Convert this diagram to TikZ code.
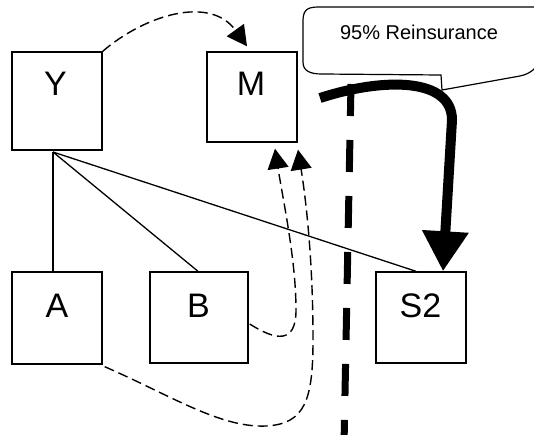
\documentclass[tikz,border=0pt]{standalone}
\usepackage{fontspec}
\setmainfont{Liberation Sans}
\usetikzlibrary{arrows.meta,calc}
\begin{document}
\begin{tikzpicture}[x=1pt,y=-1pt,
  boxnode/.style={draw,line width=1.4pt,inner sep=0pt,fill=white},
  lbl/.style={anchor=base,inner sep=0pt,font=\fontsize{34}{40}\selectfont},
  tie/.style={line width=1.3pt},
  flow/.style={line width=1.4pt,dash pattern=on 10pt off 5pt,-{Triangle[length=20pt,width=21pt]}},
  border/.style={line width=7pt,dash pattern=on 32pt off 24pt},
  reins/.style={line width=10pt,-{Triangle[length=40pt,width=44pt]}},
  bubble/.style={draw,line width=1.2pt,fill=white}]
\useasboundingbox (0,0) rectangle (534,434);
% border line
\coordinate (dtop) at (351,84);
\coordinate (dbot) at (344,445);
\draw[border] (dtop) -- (dbot);
% boxes
\node[boxnode,minimum width=90pt,minimum height=98pt] (Y) at (57,101) {};
\node[boxnode,minimum width=90pt,minimum height=90pt] (M) at (252,97) {};
\node[boxnode,minimum width=90pt,minimum height=92pt] (A) at (57,318) {};
\node[boxnode,minimum width=98pt,minimum height=91pt] (B) at (199,317.5) {};
\node[boxnode,minimum width=90pt,minimum height=91pt] (S2) at (421,317.5) {};
\node[lbl] (Ylbl) at (55.5,95) {Y};
\node[lbl] (Mlbl) at (251,95) {M};
\node[lbl] (Albl) at (57,317) {A};
\node[lbl] (Blbl) at (198.5,317) {B};
\node[lbl] (S2lbl) at (420.5,317) {S2};
% ownership lines
\coordinate (hub) at (53,152);
\draw[tie] (hub) -- (hub |- A.north);
\draw[tie] (hub) -- ($(B.north)+(-1,0)$);
\draw[tie] (hub) -- ($(S2.north)+(-5,0)$);
% dashed flows
\draw[flow] (Y.north east) .. controls (145,15) and (210,-5) .. ($(M.north)+(-5,-5)$);
\draw[flow] ($(B.east)+(1,6.5)$) .. controls (275,340) and (296,345) .. (296,310)
   .. controls (296,260) and (283,200) .. ($(M.south)+(23,6)$);
\draw[flow] ($(A.south east)+(2,2)$) .. controls (170,395) and (220,428) .. (266,426)
   .. controls (305,424) and (313,400) .. (313,340)
   .. controls (313,260) and (306,200) .. ($(M.south)+(46,7)$);
% callout
\draw[bubble] (560,7) -- (318,7) .. controls (305,7) and (303,12) .. (303,22) -- (303,62)
   .. controls (303,71) and (310,74) .. (322,74) -- (441,75) -- (442,90) -- (520,76)
   .. controls (530,74) and (537,68) .. (540,60) -- (560,7);
\node[anchor=base,inner sep=0pt,font=\fontsize{20}{24}\selectfont] (callout) at (419,39) {95\% Reinsurance};
% reinsurance arrow
\coordinate (rstart) at (320,98);
\draw[reins] (rstart) .. controls (385,77) and (452,78) .. (452,120) -- ($(S2.north)+(22,0)$);
\end{tikzpicture}
\end{document}
